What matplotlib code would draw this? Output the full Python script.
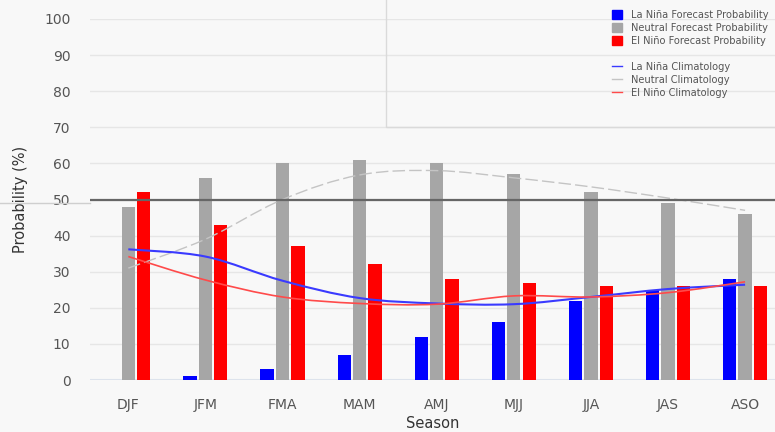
import numpy as np
import matplotlib
matplotlib.use("Agg")
import matplotlib.pyplot as plt
from matplotlib.path import Path
from matplotlib.patches import PathPatch, Rectangle, Patch
from matplotlib.lines import Line2D

# --- datos ---
seasons = ["DJF", "JFM", "FMA", "MAM", "AMJ", "MJJ", "JJA", "JAS", "ASO"]
lanina_prob = [0, 1, 3, 7, 12, 16, 22, 25, 28]
neutral_prob = [48, 56, 60, 61, 60, 57, 52, 49, 46]
elnino_prob = [52, 43, 37, 32, 28, 27, 26, 26, 26]

lanina_clim = [36.2, 34.2, 27.5, 22.7, 21.2, 21.0, 23.0, 25.2, 26.4]
neutral_clim = [31.0, 39.0, 50.0, 56.8, 58.0, 56.0, 53.5, 50.4, 47.0]
elnino_clim = [34.2, 27.7, 23.0, 21.2, 21.0, 23.3, 23.0, 24.2, 27.2]

BG = "#f8f8f8"
AZUL = "#0000ff"
GRIS = "#a6a6a6"
ROJO = "#ff0000"


def spline_patch(xs, ys, **kw):
    # curva suave tipo "spline" (Bezier por Catmull-Rom) a traves de los puntos
    n = len(xs)
    verts = [(xs[0], ys[0])]
    codes = [Path.MOVETO]
    for i in range(n - 1):
        a = max(i - 1, 0)
        b = min(i + 2, n - 1)
        c1 = (xs[i] + (xs[i + 1] - xs[a]) / 6, ys[i] + (ys[i + 1] - ys[a]) / 6)
        c2 = (xs[i + 1] - (xs[b] - xs[i]) / 6, ys[i + 1] - (ys[b] - ys[i]) / 6)
        verts += [c1, c2, (xs[i + 1], ys[i + 1])]
        codes += [Path.CURVE4] * 3
    return PathPatch(Path(verts, codes), fill=False, **kw)


fig = plt.figure(figsize=(7.75, 4.32), dpi=100, facecolor=BG)
ax = fig.add_axes([90 / 775, 52 / 432, 685 / 775, 361 / 432], facecolor=BG)

x = np.arange(len(seasons))
w = 0.172
off = 0.2

ax.bar(x - off, lanina_prob, w, color=AZUL, zorder=2)
ax.bar(x, neutral_prob, w, color=GRIS, zorder=2)
ax.bar(x + off, elnino_prob, w, color=ROJO, zorder=2)

ax.add_patch(spline_patch(x, neutral_clim, edgecolor="#c4c4c4", lw=1.0,
                          linestyle=(0, (9, 3)), zorder=3))
ax.add_patch(spline_patch(x, lanina_clim, edgecolor="#3a3aff", lw=1.5, zorder=4))
ax.add_patch(spline_patch(x, elnino_clim, edgecolor="#ff4a4a", lw=1.2, zorder=4))

# linea de referencia en 50 %
ax.axhline(50, color="#666666", lw=1.6, zorder=3)
fig.add_artist(Line2D([0, 90 / 775], [1 - 202.5 / 432] * 2, color="#cfcfcf", lw=1))

ax.set_xlim(-0.497, 8.388)
ax.set_ylim(0, 100)
ax.set_yticks(np.arange(0, 101, 10))
ax.set_xticks(x)
ax.set_xticklabels(seasons)
ax.grid(axis="y", color="#e6e6e6", lw=1, zorder=0)
ax.axhline(0, color="#dce3ee", lw=1.5, zorder=1)
for s in ax.spines.values():
    s.set_visible(False)
ax.tick_params(axis="both", length=0, colors="#555555", labelsize=10)
ax.tick_params(axis="y", pad=14)
ax.tick_params(axis="x", pad=13)
ax.set_ylabel("Probability (%)", fontsize=10.5, color="#333333", labelpad=12)
ax.set_xlabel("Season", fontsize=10.5, color="#333333", labelpad=3)

# recuadro de la leyenda
fig.add_artist(Rectangle((386 / 775, 1 - 127 / 432), 0.6, 0.5, transform=fig.transFigure,
                         facecolor="none", edgecolor="#dadada", lw=1))

handles = [
    Patch(color=AZUL), Patch(color=GRIS), Patch(color=ROJO),
    Line2D([], [], color="none"),
    Line2D([], [], color="#3a3aff", lw=1),
    Line2D([], [], color="#c4c4c4", lw=1),
    Line2D([], [], color="#ff4a4a", lw=1),
]
labels = [
    "La Niña Forecast Probability", "Neutral Forecast Probability",
    "El Niño Forecast Probability", "",
    "La Niña Climatology", "Neutral Climatology", "El Niño Climatology",
]
leg = fig.legend(handles, labels, loc="upper left", bbox_to_anchor=(607 / 775, 1 - 5 / 432),
                 frameon=False, fontsize=7.1, labelcolor="#555555", handlelength=1.0,
                 handleheight=1.0, handletextpad=0.9, labelspacing=0.3, borderpad=0)

fig.savefig("out.png", dpi=100, facecolor=BG)
